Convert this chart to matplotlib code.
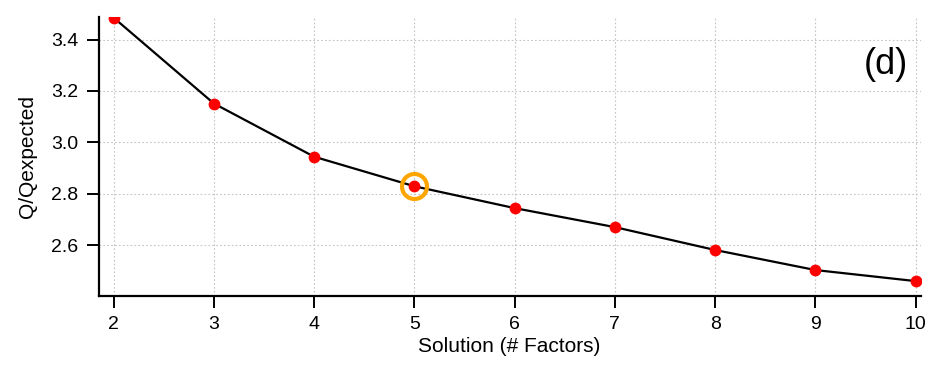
import matplotlib
matplotlib.use("Agg")
import matplotlib.pyplot as plt

plt.rcParams['font.family'] = ['Liberation Sans', 'DejaVu Sans']

# Q/Qexp against number of factors
n_factors = [2, 3, 4, 5, 6, 7, 8, 9, 10]
q_ratio = [3.485, 3.151, 2.944, 2.829, 2.744, 2.670, 2.581, 2.503, 2.460]
chosen = 5
y_ticks = [2.6, 2.8, 3.0, 3.2, 3.4]

fig = plt.figure(figsize=(9.3, 3.65), dpi=100)
ax = fig.add_axes([0.106, 0.189, 0.884, 0.764])

ax.plot(n_factors, q_ratio, color="black", lw=1.6, zorder=2)
ax.plot(n_factors, q_ratio, "o", color="#ff0000", ms=8.5, mec="none", zorder=3)
i = n_factors.index(chosen)
ax.plot(chosen, q_ratio[i], "o", ms=18, mfc="none", mec="#ffa500", mew=3.0, zorder=4)

ax.set_xlim(1.85, 10.05)
ax.set_ylim(2.402, 3.487)
ax.set_xticks(n_factors)
ax.set_yticks(y_ticks)
ax.set_yticklabels([f"{v:.1f}" for v in y_ticks])
ax.grid(True, ls=(0, (1.5, 2)), color="#c4c4c4", lw=0.8)
ax.set_axisbelow(True)
for s in ["top", "right"]:
    ax.spines[s].set_visible(False)
for s in ["left", "bottom"]:
    ax.spines[s].set_linewidth(1.6)
ax.tick_params(direction="out", length=8.5, width=1.4, labelsize=14, pad=6)

ax.set_xlabel("Solution (# Factors)", fontsize=15, labelpad=3)
ax.set_ylabel("Q/Qexpected", fontsize=15, labelpad=10)
ax.text(0.985, 0.83, "(d)", transform=ax.transAxes, ha="right", va="center", fontsize=26)

fig.savefig("out.png", dpi=100)
